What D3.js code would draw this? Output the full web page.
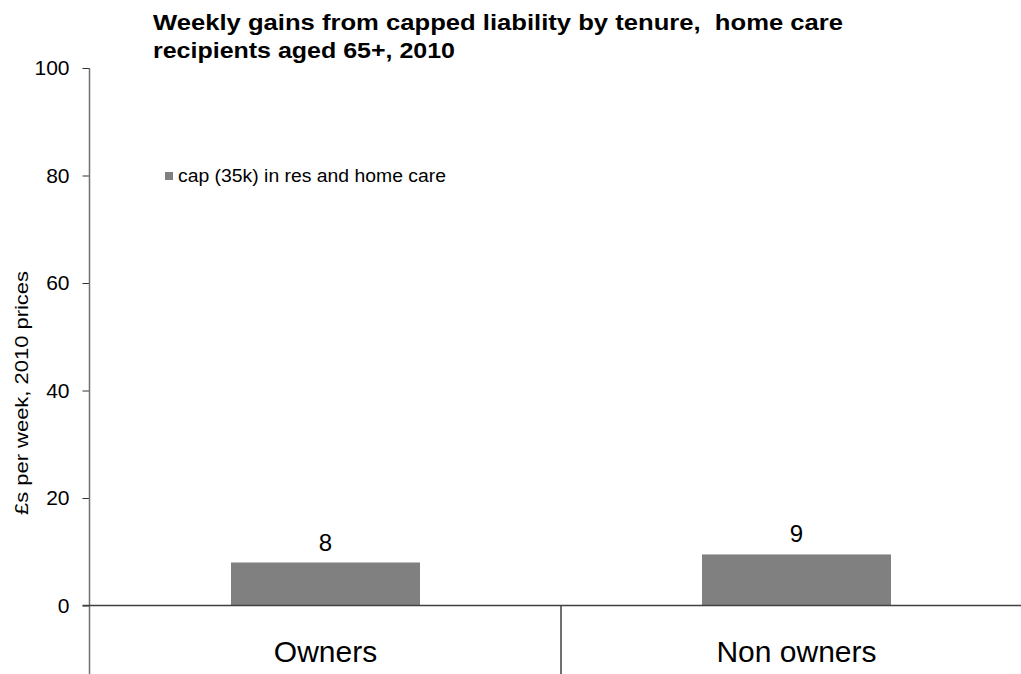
<!DOCTYPE html>
<html><head><meta charset="utf-8">
<script src="https://cdn.jsdelivr.net/npm/d3@7"></script>
<style>body{margin:0;background:#fff}svg{display:block;font-family:"Liberation Sans",Arial,sans-serif}text{white-space:pre}</style>
</head><body><svg id="c" width="1021" height="674"></svg>
<script>
const categories = ["Owners", "Non owners"];
const values = [8.0, 9.5];
const valueLabels = ["8", "9"];
const yTicks = [0, 20, 40, 60, 80, 100];
const seriesName = "cap (35k) in res and home care";
const titleLines = ["Weekly gains from capped liability by tenure,  home care", "recipients aged 65+, 2010"];
const yTitle = "£s per week, 2010 prices";

const svg = d3.select("#c");
const x0 = 89.5, x1 = 1032;
const y = d3.scaleLinear().domain([0, 100]).range([605.5, 68]);
const x = d3.scaleBand().domain(categories).range([90, x1]).paddingInner(0).paddingOuter(0);
const barW = 189;

// title
const titleLens = [690, 302];
svg.append("g").selectAll("text").data(titleLines).join("text")
  .attr("x", 153).attr("y", (d, i) => 30 + i * 28)
  .attr("font-size", 21.5).attr("font-weight", "bold").attr("fill", "#000")
  .attr("textLength", (d, i) => titleLens[i]).attr("lengthAdjust", "spacingAndGlyphs")
  .text(d => d);

// bars
svg.append("g").selectAll("rect").data(values).join("rect")
  .attr("x", (d, i) => x(categories[i]) + x.bandwidth() / 2 - barW / 2)
  .attr("width", barW)
  .attr("y", d => y(d)).attr("height", d => y(0) - y(d))
  .attr("fill", "#808080");

// value labels
svg.append("g").selectAll("text").data(values).join("text")
  .attr("x", (d, i) => x(categories[i]) + x.bandwidth() / 2)
  .attr("y", d => y(d) - 12)
  .attr("text-anchor", "middle").attr("font-size", 24).text((d, i) => valueLabels[i]);

// y axis
const yAxis = d3.axisLeft(y).tickValues(yTicks).tickSize(7).tickPadding(13);
const gy = svg.append("g").attr("transform", `translate(${x0},0)`).call(yAxis);
gy.select(".domain").remove();
gy.selectAll(".tick line").attr("stroke", "#333");
gy.selectAll(".tick text").attr("font-size", 21).attr("font-family", "Liberation Sans, Arial, sans-serif").attr("fill", "#000");
svg.append("line").attr("x1", x0).attr("x2", x0).attr("y1", y(100)).attr("y2", 674)
  .attr("stroke", "#707070").attr("stroke-width", 1.5);

// x baseline
svg.append("line").attr("x1", x0 - 7).attr("x2", 1021).attr("y1", y(0)).attr("y2", y(0))
  .attr("stroke", "#404040").attr("stroke-width", 1.5);
// category divider
svg.append("line").attr("x1", x(categories[1])).attr("x2", x(categories[1]))
  .attr("y1", y(0)).attr("y2", 674).attr("stroke", "#404040").attr("stroke-width", 1.5);

// category labels
svg.append("g").selectAll("text").data(categories).join("text")
  .attr("x", d => x(d) + x.bandwidth() / 2).attr("y", 662)
  .attr("text-anchor", "middle").attr("font-size", 30).text(d => d);

// y title
svg.append("text").attr("transform", "translate(28,393) rotate(-90)")
  .attr("text-anchor", "middle").attr("font-size", 19)
  .attr("textLength", 244).attr("lengthAdjust", "spacingAndGlyphs").text(yTitle);

// legend
svg.append("rect").attr("x", 165).attr("y", 172).attr("width", 8).attr("height", 8).attr("fill", "#808080");
svg.append("text").attr("x", 178).attr("y", 182).attr("font-size", 17.5)
  .attr("textLength", 268).attr("lengthAdjust", "spacingAndGlyphs").text(seriesName);
</script></body></html>
